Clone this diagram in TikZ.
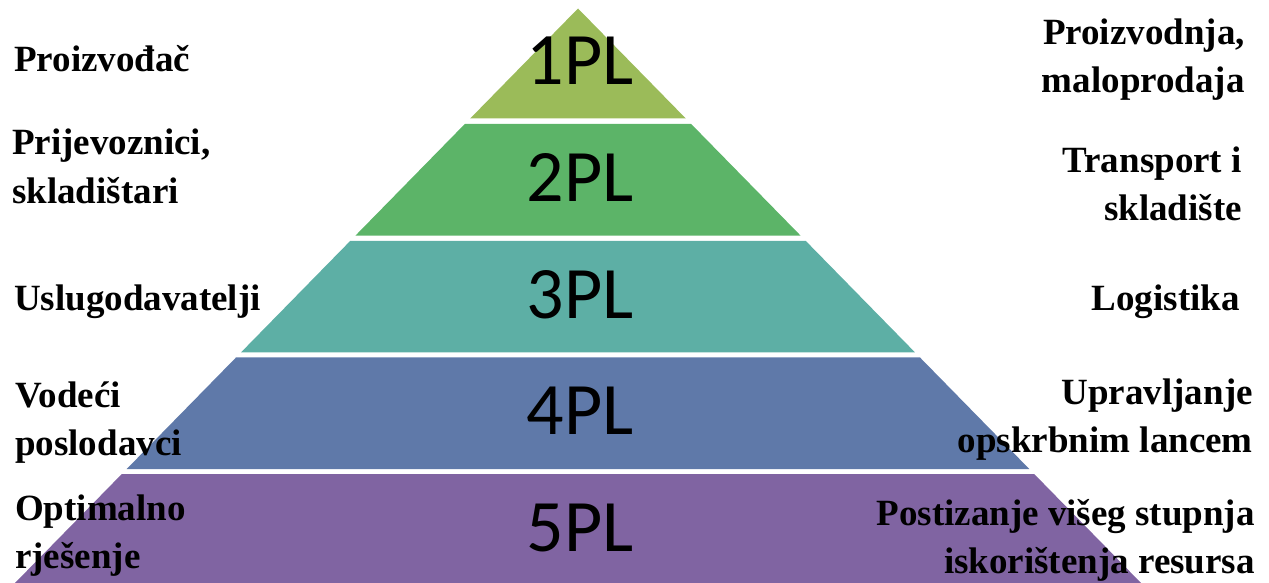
\documentclass[tikz,border=0pt]{standalone}
\usepackage{fontspec}
\setmainfont{Liberation Serif}
\newfontfamily\plfont{Carlito}
\definecolor{lay1}{RGB}{155,187,89}
\definecolor{lay2}{RGB}{92,180,104}
\definecolor{lay3}{RGB}{93,175,165}
\definecolor{lay4}{RGB}{95,121,169}
\definecolor{lay5}{RGB}{128,100,162}
\tikzset{
  pltext/.style={inner sep=0pt, anchor=base, font=\plfont\fontsize{74}{74}\selectfont},
  lbl/.style={inner sep=0pt, font=\bfseries\fontsize{37}{48}\selectfont},
  lleft/.style={lbl, align=left, anchor=base west},
  lright/.style={lbl, align=right, anchor=base east}
}
\begin{document}
\begin{tikzpicture}[x=1pt,y=-1pt]
\useasboundingbox (0,0) rectangle (1269,583);
\foreach \t/\b/\c [count=\i] in {8.5/118.5/lay1, 124/235.6/lay2, 240.8/352.3/lay3, 357.4/469/lay4, 474/583/lay5}{
  \pgfmathsetmacro\wt{0.98*(\t-8.5)}
  \pgfmathsetmacro\wb{0.98*(\b-8.5)}
  \fill[\c] (578-\wt,\t) -- (578+\wt,\t) -- (578+\wb,\b) -- (578-\wb,\b) -- cycle;
}
\node[pltext] (pl1) at (580,85) {1PL};
\node[pltext] (pl2) at (580,201.6) {2PL};
\node[pltext] (pl3) at (580,318.2) {3PL};
\node[pltext] (pl4) at (580,434.8) {4PL};
\node[pltext] (pl5) at (580,551.4) {5PL};
\node[lleft] (l1) at (14,72) {Proizvođač};
\node[lleft] (l2) at (12,203) {Prijevoznici,\\skladištari};
\node[lleft] (l3) at (14,310) {Uslugodavatelji};
\node[lleft] (l4) at (15,455) {Vodeći\\poslodavci};
\node[lleft] (l5) at (15,568) {Optimalno\\rješenje};
\node[lright] (r1) at (1245,93) {Proizvodnja,\\maloprodaja};
\node[lright] (r2) at (1242,220) {Transport i\\skladište};
\node[lright] (r3) at (1240,310) {Logistika};
\node[lright] (r4) at (1253,452) {Upravljanje\\opskrbnim lancem};
\node[lright] (r5) at (1255,573) {Postizanje višeg stupnja\\iskorištenja resursa};
\end{tikzpicture}
\end{document}
